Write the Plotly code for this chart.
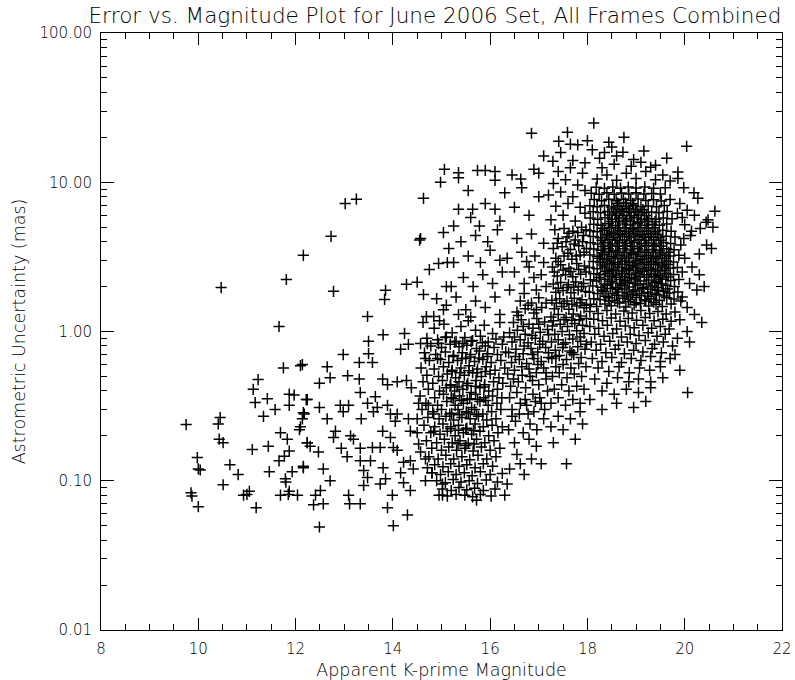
import plotly.graph_objects as go

# ---- data: (apparent K' magnitude, astrometric uncertainty in mas) ----
sparse_bright = [
    [9.75,0.238],[9.98,0.143],[10.0,0.12],[9.85,0.083],[9.87,0.079],[10.0,0.067],
    [12.16,3.24],[11.81,2.23],[10.47,1.97],[11.66,1.08],[11.75,0.57],[12.14,0.60],[12.1,0.59],
    [11.23,0.476],[11.13,0.41],[11.42,0.355],[11.17,0.334],[11.87,0.38],[11.97,0.375],[12.22,0.35],
    [11.58,0.30],[11.87,0.32],[11.34,0.27],[12.16,0.286],[12.14,0.26],[10.45,0.265],[10.41,0.24],
    [12.08,0.22],[11.69,0.21],[11.83,0.19],[10.43,0.19],[10.51,0.18],[12.24,0.18],[11.11,0.162],
    [11.44,0.17],[11.87,0.158],[10.04,0.118],[10.65,0.128],[11.66,0.136],[11.77,0.146],[10.82,0.11],
    [11.46,0.115],[11.93,0.115],[12.16,0.125],[11.79,0.103],[11.8,0.098],[10.51,0.094],[10.93,0.08],
    [11.0,0.081],[11.05,0.085],[11.69,0.08],[11.85,0.081],[11.87,0.085],[12.04,0.08],[11.19,0.066],
]
sparse_mid = [
    [14.98,10.0],[13.02,7.2],[13.25,7.7],[14.63,7.8],[12.73,4.34],[14.55,4.1],[15.04,4.6],
    [14.75,2.6],[14.94,2.86],[15.12,2.9],[12.78,1.86],[13.85,1.89],[13.83,1.64],[14.28,2.07],
    [14.5,2.14],[14.63,1.77],[14.9,1.66],[15.1,2.0],[13.48,1.26],[14.69,1.26],[14.84,1.26],
    [14.96,1.18],[15.04,1.4],[13.8,0.95],[14.24,0.97],[13.5,0.86],[12.98,0.70],[13.5,0.71],
    [14.16,0.76],[14.32,0.82],[14.57,0.83],[14.71,0.83],[14.94,0.83],[15.08,0.91],[12.65,0.58],
    [13.31,0.62],[13.58,0.62],[14.67,0.66],[14.92,0.66],[14.57,4.2],
]
sparse_faint = [
    [12.71,0.49],[12.49,0.45],[13.07,0.506],[13.31,0.48],[12.24,0.35],[12.49,0.31],[12.18,0.28],
    [12.1,0.23],[12.92,0.32],[13.09,0.32],[12.98,0.29],[13.33,0.39],[13.48,0.33],[13.64,0.366],
    [13.79,0.48],[13.89,0.44],[14.09,0.46],[14.28,0.47],[14.38,0.42],[12.65,0.26],[13.35,0.26],
    [13.6,0.29],[13.68,0.31],[13.89,0.32],[13.95,0.28],[14.09,0.28],[14.05,0.25],[14.32,0.26],
    [14.5,0.26],[14.53,0.33],[14.73,0.32],[14.84,0.28],[12.82,0.215],[12.78,0.195],[13.13,0.2],
    [13.19,0.19],[13.79,0.215],[13.95,0.195],[14.36,0.215],[14.5,0.21],[14.84,0.215],[12.24,0.18],
    [12.3,0.17],[12.47,0.156],[12.94,0.165],[13.06,0.145],[13.33,0.165],[13.58,0.167],[13.74,0.167],
    [14.01,0.167],[14.09,0.16],[14.53,0.176],[14.57,0.156],[14.22,0.133],[14.36,0.136],[14.67,0.14],
    [13.33,0.136],[13.54,0.136],[13.8,0.122],[12.16,0.122],[12.57,0.12],[13.4,0.117],[13.48,0.105],
    [14.16,0.113],[14.42,0.12],[14.71,0.122],[14.81,0.113],[12.71,0.1],[13.4,0.093],[13.74,0.095],
    [13.85,0.103],[14.22,0.097],[14.36,0.086],[14.67,0.1],[15.02,0.095],[12.51,0.086],[12.41,0.08],
    [12.37,0.069],[12.57,0.07],[13.09,0.08],[13.11,0.07],[13.33,0.07],[13.99,0.08],[13.89,0.066],
    [14.3,0.059],[15.02,0.08],[12.49,0.049],[14.01,0.05],
]
cluster_a = [
    [14.62,1.15],[14.85,1.05],[15.05,1.12],[15.22,0.98],[15.40,1.08],[15.55,1.18],[15.70,1.02],[15.88,1.10],[16.05,0.97],[16.20,1.15],
    [14.70,0.90],[14.92,0.88],[15.10,0.92],[15.30,0.86],[15.48,0.91],[15.64,0.87],[15.80,0.93],[15.96,0.85],[16.12,0.89],[16.28,0.92],
    [14.78,0.80],[15.00,0.78],[15.18,0.82],[15.36,0.79],[15.52,0.81],[15.72,0.77],[15.90,0.80],[16.08,0.78],[16.25,0.82],
    [14.65,0.72],[14.88,0.70],[15.08,0.73],[15.25,0.69],[15.43,0.72],[15.60,0.70],[15.78,0.74],[15.95,0.71],[16.15,0.70],[16.32,0.73],
    [14.75,0.64],[14.98,0.65],[15.15,0.62],[15.33,0.64],[15.50,0.66],[15.68,0.63],[15.85,0.65],[16.02,0.62],[16.22,0.64],
    [14.58,0.57],[14.85,0.56],[15.04,0.58],[15.22,0.55],[15.40,0.57],[15.57,0.59],[15.74,0.56],[15.92,0.58],[16.10,0.55],[16.30,0.57],
    [14.70,0.51],[14.94,0.50],[15.12,0.52],[15.29,0.49],[15.47,0.51],[15.64,0.53],[15.82,0.50],[16.00,0.52],[16.18,0.49],
    [14.62,0.46],[14.82,0.45],[15.02,0.47],[15.19,0.44],[15.36,0.46],[15.54,0.45],[15.71,0.47],[15.89,0.44],[16.07,0.46],[16.26,0.45],
    [14.73,0.41],[14.96,0.40],[15.10,0.42],[15.27,0.40],[15.44,0.41],[15.61,0.39],[15.79,0.42],[15.97,0.40],[16.15,0.41],
    [14.56,0.37],[14.86,0.36],[15.04,0.38],[15.20,0.36],[15.37,0.37],[15.53,0.35],[15.70,0.38],[15.87,0.36],[16.05,0.37],[16.24,0.36],
    [14.68,0.33],[14.92,0.32],[15.11,0.34],[15.28,0.32],[15.45,0.33],[15.62,0.31],[15.79,0.34],[15.96,0.32],[16.14,0.33],
    [14.60,0.30],[14.82,0.29],[15.00,0.30],[15.17,0.28],[15.34,0.30],[15.51,0.29],[15.68,0.30],[15.85,0.28],[16.03,0.29],[16.22,0.30],
    [14.72,0.265],[14.95,0.26],[15.09,0.27],[15.25,0.255],[15.42,0.265],[15.59,0.26],[15.76,0.27],[15.93,0.255],[16.12,0.26],
    [14.64,0.235],[14.86,0.23],[15.03,0.24],[15.19,0.23],[15.35,0.235],[15.52,0.225],[15.69,0.24],[15.86,0.23],[16.04,0.235],[16.25,0.23],
    [14.78,0.21],[14.97,0.205],[15.12,0.215],[15.28,0.20],[15.45,0.21],[15.62,0.205],[15.79,0.215],[15.97,0.20],[16.16,0.21],
    [14.69,0.185],[14.90,0.18],[15.06,0.19],[15.22,0.18],[15.38,0.185],[15.55,0.178],[15.72,0.19],[15.89,0.18],[16.08,0.185],
    [14.80,0.165],[15.00,0.16],[15.15,0.168],[15.31,0.16],[15.48,0.165],[15.65,0.158],[15.82,0.168],[16.00,0.16],[16.20,0.165],
    [14.74,0.145],[14.93,0.14],[15.09,0.148],[15.25,0.14],[15.42,0.145],[15.58,0.138],[15.75,0.148],[15.93,0.14],[16.12,0.145],
    [14.86,0.128],[15.03,0.124],[15.19,0.13],[15.36,0.125],[15.52,0.128],[15.69,0.122],[15.86,0.13],[16.05,0.125],
    [14.80,0.113],[14.98,0.11],[15.14,0.115],[15.30,0.11],[15.47,0.113],[15.63,0.108],[15.80,0.115],[16.00,0.11],[16.25,0.112],
    [14.90,0.10],[15.08,0.097],[15.24,0.102],[15.40,0.098],[15.57,0.10],[15.74,0.096],[15.92,0.101],[16.15,0.098],
    [15.02,0.088],[15.20,0.086],[15.36,0.09],[15.52,0.087],[15.68,0.089],[15.86,0.086],[16.10,0.088],
    [14.95,0.08],[15.12,0.079],[15.30,0.081],[15.48,0.08],[15.64,0.078],[15.80,0.081],[16.02,0.079],[16.30,0.08],[15.72,0.074],
]
cluster_a_fill = [
    [15.27,0.85],[15.44,0.83],[15.61,0.86],[15.84,0.84],
    [15.24,0.68],[15.42,0.66],[15.59,0.675],[15.77,0.665],[15.94,0.68],
    [15.21,0.54],[15.38,0.53],[15.56,0.545],[15.73,0.53],[15.90,0.54],
    [15.18,0.435],[15.32,0.425],[15.52,0.435],[15.70,0.43],[15.88,0.425],
    [15.24,0.355],[15.41,0.345],[15.58,0.355],[15.74,0.35],[15.91,0.345],
    [15.21,0.283],[15.37,0.277],[15.55,0.284],[15.72,0.278],
    [15.19,0.223],[15.35,0.218],[15.50,0.222],[15.66,0.217],
    [15.34,0.177],[15.50,0.172],[15.67,0.176],
]
band_b = [
    [16.40,0.12],[16.55,0.15],[16.70,0.11],[16.85,0.14],[16.50,0.18],[16.95,0.17],[16.35,0.095],[16.62,0.13],[17.05,0.13],[16.80,0.19],
    [16.38,0.22],[16.52,0.25],[16.68,0.21],[16.82,0.24],[16.96,0.22],[17.10,0.26],[16.45,0.30],[16.60,0.28],[16.75,0.32],[16.90,0.29],
    [17.05,0.33],[16.40,0.36],[16.55,0.39],[16.72,0.35],[16.88,0.38],[17.02,0.36],[17.18,0.40],
    [16.42,0.43],[16.58,0.46],[16.73,0.42],[16.87,0.47],[17.00,0.44],[17.15,0.48],[16.36,0.52],[16.50,0.55],[16.66,0.51],[16.80,0.56],
    [16.95,0.53],[17.10,0.57],[16.44,0.62],[16.60,0.65],[16.75,0.61],[16.90,0.66],[17.05,0.63],[17.20,0.67],[16.38,0.72],[16.53,0.76],
    [16.68,0.71],[16.84,0.77],[16.98,0.73],[17.14,0.78],
    [16.45,0.85],[16.62,0.88],[16.78,0.84],[16.93,0.90],[17.08,0.86],[16.40,0.98],[16.56,1.02],[16.72,0.96],[16.88,1.05],[17.03,0.99],
    [17.18,1.03],[16.48,1.15],[16.64,1.2],[16.80,1.12],[16.96,1.22],[17.12,1.16],[16.55,1.35],[16.72,1.42],[16.90,1.33],[17.06,1.45],
    [16.62,1.6],[16.85,1.55],[17.0,1.68],
    [16.40,1.9],[16.70,2.1],[16.95,1.9],[16.50,2.5],[16.80,2.7],[17.05,2.4],[16.35,3.1],[16.65,3.4],[16.92,3.2],[16.55,4.2],
    [16.85,4.5],[17.1,3.9],
    [15.6,5.8],[15.9,7.2],[16.2,5.5],[16.5,6.8],[16.8,6.0],[16.3,8.5],[16.65,9.2],[17.0,8.0],[16.1,10.3],[16.45,11.2],
    [16.9,12.2],[15.55,8.8],
    [15.1,1.5],[15.3,1.7],[15.5,1.4],[15.7,1.6],[15.9,1.45],[16.1,1.7],[15.2,2.0],[15.45,2.3],[15.65,2.0],[15.85,2.4],
    [16.05,2.1],[16.25,2.5],[15.25,2.9],[15.55,3.2],[15.8,2.9],[16.0,3.5],[16.2,3.0],[15.4,4.0],[15.7,4.4],[15.95,4.0],
    [16.15,4.8],[15.15,3.6],[15.6,1.25],[16.2,1.3],[15.35,1.3],
    [15.35,6.6],[15.64,6.6],[16.1,6.6],[15.78,5.1],[15.25,5.1],[15.06,12.2],[15.35,11.6],[15.35,10.7],[15.74,12.0],[15.9,12.0],
    [16.1,11.8],[16.63,10.5],[17.0,11.5],
]
band_b_fill = [
    [16.45,0.27],[16.62,0.33],[16.78,0.28],[16.93,0.34],[17.12,0.30],[16.48,0.48],[16.65,0.58],[16.82,0.50],[16.98,0.60],[17.15,0.53],
    [16.52,0.68],[16.70,0.80],[16.87,0.70],[17.02,0.82],[17.2,0.72],[16.5,0.92],[16.68,1.08],[16.86,0.94],[17.0,1.12],[17.2,0.95],
    [16.58,1.28],[16.78,1.5],[16.95,1.4],[17.15,1.55],[16.7,1.8],[16.9,2.3],[17.15,2.0],[17.1,2.9],[16.75,2.95],
]
band_c = [
    [17.57,0.13],[17.3,0.18],[17.5,0.22],[17.75,0.19],[17.4,0.27],[17.65,0.26],[17.9,0.24],[17.25,0.23],[17.85,0.29],
    [17.25,0.33],[17.40,0.36],[17.55,0.32],[17.70,0.35],[17.85,0.33],[17.32,0.41],[17.47,0.44],[17.62,0.40],[17.78,0.43],[17.93,0.41],
    [17.28,0.50],[17.42,0.53],[17.58,0.49],[17.73,0.52],[17.88,0.50],[17.35,0.58],[17.50,0.60],[17.66,0.57],[17.82,0.61],[17.97,0.58],
    [17.27,0.66],[17.42,0.69],[17.57,0.65],[17.72,0.70],[17.87,0.67],[17.34,0.75],[17.49,0.78],[17.64,0.74],[17.80,0.79],[17.95,0.76],
    [17.26,0.85],[17.40,0.88],[17.55,0.84],[17.70,0.89],[17.86,0.86],[17.33,0.96],[17.48,1.0],[17.63,0.95],[17.78,1.01],[17.93,0.97],
    [17.28,1.09],[17.44,1.12],[17.59,1.08],[17.74,1.13],[17.90,1.1],
    [17.25,1.25],[17.40,1.3],[17.56,1.24],[17.71,1.31],[17.86,1.27],[17.32,1.42],[17.47,1.47],[17.62,1.41],[17.78,1.48],[17.93,1.44],
    [17.27,1.62],[17.43,1.66],[17.58,1.6],[17.73,1.67],[17.89,1.63],[17.35,1.83],[17.50,1.88],[17.66,1.82],[17.81,1.9],[17.96,1.85],
    [17.30,2.08],[17.45,2.13],[17.61,2.06],[17.76,2.15],[17.92,2.1],[17.38,2.35],[17.55,2.4],[17.70,2.33],[17.86,2.42],
    [17.28,2.7],[17.45,2.8],[17.62,2.65],[17.78,2.85],[17.94,2.75],[17.35,3.1],[17.52,3.2],[17.68,3.05],[17.85,3.25],[17.30,3.6],
    [17.48,3.7],[17.65,3.55],[17.82,3.75],[17.98,3.6],[17.40,4.2],[17.58,4.3],[17.75,4.1],[17.92,4.4],[17.33,4.8],[17.52,4.9],
    [17.70,4.7],[17.88,5.0],
    [17.25,5.6],[17.5,6.0],[17.75,5.5],[17.95,6.2],[17.35,6.9],[17.6,7.2],[17.85,6.8],[17.2,8.2],[17.45,8.6],[17.7,8.0],
    [17.95,8.8],[17.3,9.8],[17.55,10.4],[17.8,9.6],[17.4,11.8],[17.65,12.5],[17.9,11.5],[17.29,13.8],[17.1,15.0],[17.45,15.8],
    [17.7,14.0],[16.85,21.3],[17.59,21.6],[17.41,18.8],[17.65,18.0],[17.8,17.8],[17.95,13.5],
]
band_c_fill = [
    [17.35,0.68],[17.5,0.82],[17.68,0.72],[17.85,0.92],[17.98,0.82],[17.3,1.18],[17.52,1.2],[17.68,1.19],[17.83,1.2],[17.98,1.22],
    [17.36,1.55],[17.52,1.54],[17.68,1.52],[17.85,1.56],[17.98,1.5],[17.4,1.95],[17.58,1.97],[17.72,1.99],[17.88,2.0],[17.32,2.5],
    [17.5,2.58],[17.66,2.52],[17.82,2.6],[17.97,2.5],[17.4,2.95],[17.6,3.35],[17.77,3.2],[17.93,3.4],[17.38,3.9],[17.56,4.0],
    [17.73,3.85],[17.9,4.0],[17.62,4.55],[17.8,4.6],[17.97,4.8],
]
cluster_b_core = [
    [18.06,1.52],[18.19,1.47],[18.36,1.53],[18.49,1.49],[18.66,1.55],[18.79,1.46],[18.96,1.51],[19.09,1.54],[19.26,1.48],[19.41,1.52],[19.54,1.47],[19.72,1.53],
    [18.13,1.66],[18.26,1.63],[18.43,1.68],[18.56,1.62],[18.73,1.67],[18.88,1.64],[19.01,1.69],[19.18,1.63],[19.31,1.66],[19.48,1.62],[19.63,1.68],[19.78,1.65],[19.92,1.6],
    [18.04,1.83],[18.21,1.8],[18.34,1.85],[18.51,1.79],[18.64,1.84],[18.81,1.81],[18.94,1.86],[19.11,1.8],[19.24,1.83],[19.39,1.79],[19.56,1.85],[19.69,1.81],[19.86,1.84],
    [18.11,2.02],[18.28,1.98],[18.41,2.04],[18.58,1.97],[18.71,2.03],[18.86,1.99],[19.03,2.05],[19.16,1.98],[19.33,2.02],[19.46,1.97],[19.61,2.04],[19.79,2.0],
    [18.06,2.22],[18.19,2.18],[18.36,2.24],[18.49,2.17],[18.66,2.23],[18.79,2.19],[18.96,2.25],[19.09,2.18],[19.26,2.21],[19.41,2.17],[19.54,2.24],[19.71,2.2],[19.88,2.23],
    [18.13,2.44],[18.27,2.4],[18.42,2.46],[18.57,2.39],[18.72,2.45],[18.87,2.41],[19.02,2.47],[19.17,2.4],[19.32,2.43],[19.47,2.38],[19.62,2.45],[19.77,2.41],
    [18.04,2.68],[18.2,2.63],[18.35,2.7],[18.5,2.62],[18.65,2.69],[18.8,2.64],[18.95,2.71],[19.1,2.63],[19.25,2.67],[19.4,2.62],[19.55,2.7],[19.7,2.65],[19.85,2.68],
    [18.12,2.95],[18.27,2.9],[18.42,2.97],[18.57,2.89],[18.72,2.96],[18.87,2.91],[19.02,2.98],[19.17,2.9],[19.32,2.94],[19.47,2.89],[19.62,2.97],[19.77,2.92],
    [18.05,3.25],[18.2,3.19],[18.35,3.27],[18.5,3.18],[18.65,3.26],[18.8,3.2],[18.95,3.28],[19.1,3.19],[19.25,3.23],[19.4,3.18],[19.55,3.26],[19.7,3.21],[19.88,3.24],
    [18.13,3.57],[18.28,3.5],[18.43,3.59],[18.58,3.49],[18.73,3.58],[18.88,3.52],[19.03,3.6],[19.18,3.51],[19.33,3.55],[19.48,3.5],[19.63,3.58],[19.78,3.53],
    [18.06,3.93],[18.21,3.86],[18.36,3.95],[18.51,3.85],[18.66,3.94],[18.81,3.88],[18.96,3.96],[19.11,3.87],[19.26,3.91],[19.41,3.85],[19.56,3.94],[19.71,3.89],
    [18.12,4.33],[18.27,4.25],[18.42,4.36],[18.57,4.24],[18.72,4.34],[18.87,4.27],[19.02,4.37],[19.17,4.26],[19.32,4.31],[19.47,4.24],[19.62,4.35],[19.8,4.29],
    [18.05,4.74],[18.2,4.66],[18.35,4.77],[18.5,4.65],[18.65,4.75],[18.8,4.68],[18.95,4.78],[19.1,4.67],[19.25,4.72],[19.4,4.66],[19.55,4.76],[19.72,4.7],
    [18.13,5.24],[18.28,5.15],[18.43,5.27],[18.58,5.14],[18.73,5.25],[18.88,5.17],[19.03,5.28],[19.18,5.16],[19.33,5.21],[19.48,5.15],[19.63,5.26],
    [18.06,5.75],[18.21,5.65],[18.36,5.78],[18.51,5.64],[18.66,5.76],[18.81,5.67],[18.96,5.79],[19.11,5.66],[19.26,5.72],[19.41,5.65],[19.56,5.77],[19.74,5.7],
    [18.12,6.35],[18.27,6.24],[18.42,6.38],[18.57,6.23],[18.72,6.36],[18.87,6.26],[19.02,6.39],[19.17,6.25],[19.32,6.31],[19.47,6.24],[19.64,6.37],
    [18.05,6.96],[18.2,6.84],[18.35,6.99],[18.5,6.83],[18.65,6.97],[18.8,6.86],[18.95,7.0],[19.1,6.85],[19.25,6.92],[19.42,6.84],[19.58,6.98],
    [18.14,7.66],[18.29,7.53],[18.44,7.7],[18.59,7.52],[18.74,7.68],[18.89,7.55],[19.04,7.71],[19.2,7.54],[19.36,7.62],[19.52,7.5],[19.7,7.65],
    [18.08,8.45],[18.24,8.32],[18.4,8.5],[18.55,8.3],[18.7,8.48],[18.85,8.35],[19.0,8.52],[19.16,8.33],[19.32,8.42],[19.5,8.35],
    [18.18,9.25],[18.35,9.1],[18.52,9.3],[18.68,9.12],[18.84,9.28],[19.0,9.15],[19.18,9.3],[19.36,9.1],[19.6,9.2],
]
cluster_b_fill = [
    [18.45,1.60],[18.62,1.57],[18.84,1.59],[19.00,1.56],[19.20,1.60],[19.36,1.57],
    [18.38,1.72],[18.60,1.75],[18.77,1.73],[18.92,1.77],[19.07,1.74],[19.26,1.72],[19.42,1.76],[19.58,1.73],
    [18.30,1.90],[18.47,1.94],[18.62,1.91],[18.76,1.93],[18.98,1.90],[19.14,1.94],[19.30,1.92],[19.44,1.89],[19.65,1.93],
    [18.35,2.08],[18.52,2.11],[18.68,2.09],[18.83,2.13],[18.99,2.10],[19.21,2.08],[19.38,2.12],[19.52,2.09],
    [18.24,2.30],[18.45,2.34],[18.60,2.31],[18.76,2.33],[18.91,2.29],[19.06,2.34],[19.22,2.31],[19.37,2.33],[19.50,2.30],[19.66,2.32],
    [18.38,2.53],[18.53,2.56],[18.70,2.54],[18.84,2.58],[18.99,2.55],[19.14,2.53],[19.29,2.57],[19.44,2.54],[19.59,2.56],
    [18.31,2.79],[18.46,2.83],[18.62,2.80],[18.77,2.82],[18.92,2.78],[19.06,2.83],[19.21,2.80],[19.36,2.82],[19.52,2.79],[19.66,2.81],
    [18.24,3.10],[18.39,3.06],[18.54,3.09],[18.69,3.07],[18.84,3.11],[18.99,3.08],[19.14,3.06],[19.29,3.10],[19.43,3.07],[19.59,3.09],
    [18.31,3.37],[18.46,3.41],[18.61,3.38],[18.76,3.40],[18.91,3.36],[19.06,3.41],[19.21,3.38],[19.36,3.40],[19.51,3.37],[19.67,3.39],
    [18.33,3.71],[18.48,3.74],[18.63,3.72],[18.78,3.76],[18.93,3.73],[19.08,3.71],[19.22,3.75],[19.37,3.72],[19.52,3.74],
    [18.30,4.08],[18.45,4.12],[18.61,4.09],[18.76,4.11],[18.90,4.07],[19.06,4.12],[19.20,4.09],[19.36,4.11],[19.51,4.08],
    [18.39,4.48],[18.54,4.51],[18.68,4.49],[18.84,4.54],[18.98,4.50],[19.14,4.47],[19.29,4.52],[19.44,4.49],
    [18.31,4.92],[18.46,4.97],[18.62,4.94],[18.77,4.96],[18.92,4.91],[19.06,4.97],[19.22,4.93],[19.37,4.95],
    [18.49,5.46],[18.64,5.44],[18.79,5.49],[18.94,5.45],[19.09,5.42],[19.24,5.47],[19.39,5.44],
    [18.45,6.03],[18.60,5.99],[18.75,6.02],[18.90,5.96],[19.05,6.03],[19.21,5.98],
    [18.54,6.61],[18.69,6.58],[18.84,6.64],[18.99,6.60],[19.14,6.56],
    [18.62,7.24],[18.78,7.27],[18.93,7.21],
]
cluster_b_top = [
    [18.13,24.9],[18.44,18.5],[19.16,16.2],[18.73,15.9],[19.63,14.5],[20.04,17.4],[18.2,10.5],[18.4,11.2],[18.6,10.3],[18.8,11.5],
    [19.0,10.6],[19.2,11.8],[19.4,10.4],[19.55,11.2],[18.3,12.5],[18.55,13.2],[18.9,12.8],[19.1,13.6],[19.3,12.6],[18.25,14.5],
    [18.6,15.0],[18.95,14.2],[19.4,13.0],[18.1,16.5],[18.35,15.8],[19.86,11.7],[19.86,10.6],[19.98,9.2],[20.19,8.5],[20.27,7.8],
    [18.5,17.2],[18.0,19.0],[19.7,10.2],[18.75,20.0],
]
cluster_b_edge = [
    [20.62,6.4],[20.44,5.4],[20.48,5.6],[20.58,5.0],[20.45,3.8],[19.92,3.8],[20.12,4.4],[20.14,4.7],[19.95,5.8],[20.05,6.5],
    [19.9,7.2],[20.2,6.0],[20.0,3.1],[20.15,2.7],[20.3,2.4],[19.95,2.5],[20.1,2.1],[20.25,1.9],[19.95,1.7],[20.05,1.45],
    [20.2,1.3],[20.35,1.15],[19.9,1.2],[20.05,1.0],[20.1,0.85],[19.85,0.9],[20.06,0.39],[19.9,0.55],[19.8,0.7],[20.3,3.3],
    [20.4,2.0],[19.98,4.2],[20.0,5.2],[19.85,6.2],[20.32,4.9],[20.55,3.6],
]
cluster_b_low = [
    [18.05,1.36],[18.22,1.32],[18.4,1.38],[18.58,1.31],[18.75,1.37],[18.92,1.33],[19.1,1.38],[19.28,1.32],[19.45,1.36],[19.62,1.31],[19.8,1.35],
    [18.13,1.21],[18.31,1.18],[18.49,1.23],[18.67,1.17],[18.84,1.22],[19.01,1.19],[19.19,1.24],[19.37,1.18],[19.55,1.21],[19.72,1.17],
    [18.05,1.08],[18.23,1.05],[18.41,1.1],[18.6,1.04],[18.78,1.09],[18.96,1.06],[19.14,1.1],[19.32,1.05],[19.5,1.08],[19.68,1.04],
    [18.15,0.96],[18.34,0.93],[18.52,0.97],[18.7,0.92],[18.88,0.96],[19.06,0.94],[19.25,0.98],[19.43,0.93],[19.6,0.96],
    [18.08,0.85],[18.27,0.82],[18.46,0.86],[18.64,0.81],[18.82,0.85],[19.0,0.83],[19.19,0.87],[19.38,0.82],[19.56,0.85],[19.75,0.8],
    [18.18,0.75],[18.38,0.72],[18.57,0.76],[18.76,0.71],[18.95,0.75],[19.14,0.73],[19.33,0.77],[19.52,0.72],
    [18.1,0.66],[18.3,0.63],[18.5,0.67],[18.7,0.62],[18.9,0.66],[19.1,0.64],[19.3,0.68],[19.5,0.63],[19.7,0.66],
    [18.22,0.57],[18.44,0.54],[18.65,0.58],[18.86,0.53],[19.07,0.57],[19.28,0.55],[19.5,0.58],
    [18.15,0.48],[18.4,0.45],[18.62,0.49],[18.85,0.46],[19.05,0.48],[19.3,0.46],[19.55,0.49],
    [18.3,0.4],[18.55,0.38],[18.8,0.41],[19.05,0.39],[19.3,0.42],
    [18.3,0.3],[18.6,0.33],[18.95,0.31],[19.2,0.34],[18.05,0.35],
]

x_tick_vals = [8, 10, 12, 14, 16, 18, 20, 22]
y_tick_vals = [0.01, 0.1, 1, 10, 100]
y_tick_text = ["0.01", "0.10", "1.00", "10.00", "100.00"]
y_minor_vals = [m * d for d in (0.01, 0.1, 1, 10) for m in range(2, 10)]

groups = [sparse_bright, sparse_mid, sparse_faint, cluster_a, cluster_a_fill, band_b, band_b_fill,
          band_c, band_c_fill, cluster_b_core, cluster_b_fill, cluster_b_top, cluster_b_edge, cluster_b_low]
mags = [p[0] for g in groups for p in g]
errs = [p[1] for g in groups for p in g]

FONT = "DejaVu Sans"

fig = go.Figure(go.Scatter(
    x=mags, y=errs, mode="markers",
    marker=dict(symbol="cross-thin", size=8, color="black",
                line=dict(color="black", width=1.5)),
    hoverinfo="skip", showlegend=False,
))

fig.update_layout(
    width=795, height=680,
    margin=dict(l=101, r=13, t=33, b=50, autoexpand=False),
    paper_bgcolor="white", plot_bgcolor="white",
    title=dict(text="Error vs. Magnitude Plot for June 2006 Set, All Frames Combined",
               x=0.547, xanchor="center", y=0.977, yanchor="middle", automargin=False,
               font=dict(family=FONT, size=21.5, color="black", weight=200)),
    font=dict(family=FONT, color="black"),
)
fig.update_xaxes(
    range=[8, 22], tickvals=x_tick_vals, ticks="inside", ticklen=12, tickwidth=1,
    tickcolor="black", showline=True, linecolor="black", linewidth=1, mirror="ticks",
    showgrid=False, zeroline=False, automargin=False, ticklabelstandoff=5,
    minor=dict(dtick=0.5, ticks="inside", ticklen=6, tickwidth=1, tickcolor="black", showgrid=False),
    tickfont=dict(family=FONT, size=15, color="black", weight=200),
    title=dict(text="Apparent K-prime Magnitude", standoff=7,
               font=dict(family=FONT, size=17.5, color="black", weight=200)),
)
fig.update_yaxes(
    type="log", range=[-2, 2], tickvals=y_tick_vals, ticktext=y_tick_text,
    ticks="inside", ticklen=13, tickwidth=1, tickcolor="black",
    showline=True, linecolor="black", linewidth=1, mirror="ticks",
    showgrid=False, zeroline=False, automargin=False, ticklabelstandoff=5,
    minor=dict(tickvals=y_minor_vals, ticks="inside", ticklen=6, tickwidth=1,
               tickcolor="black", showgrid=False),
    tickfont=dict(family=FONT, size=15, color="black", weight=200),
    title=dict(text="Astrometric Uncertainty (mas)", standoff=9,
               font=dict(family=FONT, size=17.5, color="black", weight=200)),
)

# the page's default 8px body margin would shift the 795x680 figure out of the window
fig.write_html("out.html", config={"displayModeBar": False},
               post_script="document.body.style.margin='0px';")
